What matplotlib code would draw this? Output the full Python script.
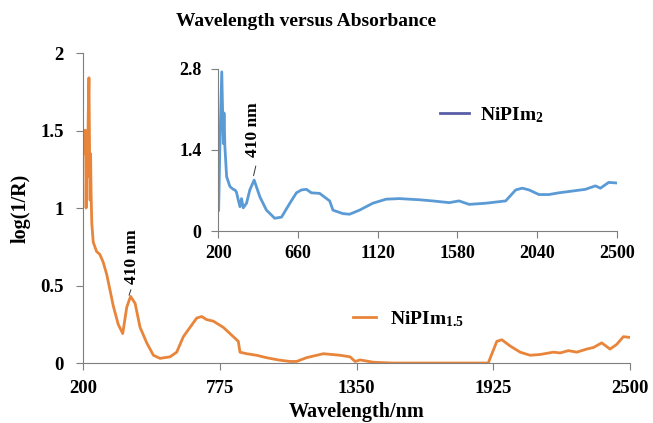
import numpy as np
import matplotlib.pyplot as plt
from matplotlib.lines import Line2D

plt.rcParams['font.family'] = ['Liberation Serif', 'DejaVu Serif']
plt.rcParams['font.weight'] = 'bold'
plt.rcParams['mathtext.fontset'] = 'custom'
plt.rcParams['mathtext.rm'] = 'Liberation Serif:bold'
plt.rcParams['mathtext.it'] = 'Liberation Serif:bold'
plt.rcParams['mathtext.bf'] = 'Liberation Serif:bold'

# NiPIm1.5 (main plot)
wl_15 = [205, 208, 211, 213, 216, 219, 222, 225, 228, 230, 232, 234, 237, 243, 257, 271,
         285, 300, 315, 327, 348, 367, 384, 400, 419, 440, 468, 496, 524, 566, 594, 622, 650, 678,
         699, 720, 748, 790, 832, 853, 860, 888, 930, 970, 1020, 1070, 1098, 1141, 1211,
         1281, 1323, 1344, 1365, 1421, 1500, 1700, 1904, 1940, 1961, 1996, 2038, 2080,
         2122, 2178, 2206, 2241, 2276, 2318, 2346, 2381, 2416, 2444, 2472, 2500]
ab_15 = [1.5, 1.35, 1.5, 1.0, 1.45, 1.2, 1.6, 1.84, 1.3, 1.05, 1.35, 1.1, 0.9, 0.78, 0.72, 0.70,
         0.65, 0.57, 0.46, 0.37, 0.25, 0.19, 0.36, 0.43, 0.385, 0.23, 0.13, 0.05, 0.03, 0.04, 0.07, 0.17,
         0.23, 0.29, 0.30, 0.28, 0.27, 0.23, 0.17, 0.14, 0.07, 0.06, 0.05, 0.035, 0.02, 0.01,
         0.01, 0.035, 0.06, 0.05, 0.04, 0.01, 0.02, 0.005, 0.0, 0.0, 0.0, 0.14, 0.15, 0.11,
         0.07, 0.05, 0.055, 0.07, 0.065, 0.08, 0.07, 0.09, 0.1, 0.13, 0.09, 0.12, 0.17, 0.165]

# NiPIm2 (inset)
wl_2 = [202, 210, 220, 229, 233, 238, 248, 267, 286, 296, 305, 315, 325, 334, 344, 363,
        382, 407, 440, 478, 526, 565, 613, 651, 680, 709, 737, 785, 843, 862, 920, 958,
        1015, 1092, 1169, 1245, 1360, 1437, 1533, 1590, 1648, 1744, 1859, 1917, 1955,
        1994, 2051, 2109, 2166, 2243, 2319, 2377, 2406, 2454, 2500]
ab_2 = [0.36, 1.6, 2.75, 1.51, 2.04, 1.46, 0.94, 0.77, 0.72, 0.71, 0.67, 0.54, 0.42, 0.56,
        0.40, 0.48, 0.71, 0.88, 0.59, 0.36, 0.22, 0.24, 0.48, 0.66, 0.71, 0.72, 0.66, 0.65,
        0.52, 0.36, 0.30, 0.29, 0.36, 0.48, 0.55, 0.56, 0.54, 0.52, 0.49, 0.52, 0.46, 0.48,
        0.52, 0.71, 0.74, 0.71, 0.63, 0.63, 0.66, 0.69, 0.72, 0.78, 0.74, 0.84, 0.83]

main_xticks = [200, 775, 1350, 1925, 2500]
main_yticks = [0, 0.5, 1, 1.5, 2]
inset_xticks = [200, 660, 1120, 1580, 2040, 2500]
inset_yticks = [0, 1.4, 2.8]

orange = '#e8853a'
blue = '#5b9bd5'
spine_col = '#7f7f7f'

fig = plt.figure(figsize=(6.53, 4.23), dpi=100)

ax = fig.add_axes([0.1271, 0.1418, 0.8377, 0.7329])
ax.plot(wl_15, ab_15, color=orange, lw=2)
ax.set_xlim(200, 2500)
ax.set_ylim(0, 2)
ax.set_xticks(main_xticks)
ax.set_yticks(main_yticks)
ax.set_yticklabels(['0', '0.5', '1', '1.5', '2'])
for s in ['top', 'right']:
    ax.spines[s].set_visible(False)
for s in ['left', 'bottom']:
    ax.spines[s].set_color(spine_col)
ax.tick_params(direction='out', length=5, color=spine_col, labelsize=13.5)
ax.tick_params(axis='y', pad=9)
ax.tick_params(axis='x', pad=7)
ax.set_xlabel('Wavelength/nm', fontsize=14.5, fontweight='bold', labelpad=4)
ax.set_ylabel('log(1/R)', fontsize=14.5, fontweight='bold', labelpad=7)

ax.text(408, 0.51, '410 nm', rotation=90, ha='center', va='bottom', fontsize=12.5, fontweight='bold')
ax.annotate('', xy=(390, 0.42), xytext=(405, 0.49),
            arrowprops=dict(arrowstyle='-', color='#333333', lw=0.7))

ax.legend(handles=[Line2D([], [], color=orange, lw=2)], labels=[r'NiPIm$_{1.5}$'],
          loc='center left', bbox_to_anchor=(0.4936, 0.1415), frameon=False,
          borderpad=0, borderaxespad=0, handlelength=1.2, handletextpad=0.7,
          prop={'size': 14, 'weight': 'bold'})

ins = fig.add_axes([0.3343, 0.4539, 0.6101, 0.3830])
ins.patch.set_alpha(0)
ins.plot(wl_2, ab_2, color=blue, lw=2)
ins.set_xlim(200, 2500)
ins.set_ylim(0, 2.8)
ins.set_xticks(inset_xticks)
ins.set_yticks(inset_yticks)
ins.set_yticklabels(['0', '1.4', '2.8'])
for s in ['top', 'right']:
    ins.spines[s].set_visible(False)
for s in ['left', 'bottom']:
    ins.spines[s].set_color(spine_col)
ins.tick_params(direction='out', length=5, color=spine_col, labelsize=13)
ins.tick_params(axis='y', pad=7)
ins.tick_params(axis='x', pad=5)

ins.text(400, 1.28, '410 nm', rotation=90, ha='center', va='bottom', fontsize=12.5, fontweight='bold')
ins.annotate('', xy=(400, 0.91), xytext=(420, 1.17),
             arrowprops=dict(arrowstyle='-', color='#333333', lw=0.7))

ins.legend(handles=[Line2D([], [], color='#5b5ea6', lw=2)], labels=[r'NiPIm$_{2}$'],
           loc='center left', bbox_to_anchor=(0.5565, 0.716), frameon=False,
           borderpad=0, borderaxespad=0, handlelength=1.5, handletextpad=0.55,
           prop={'size': 14, 'weight': 'bold'})

fig.text(0.469, 0.95, 'Wavelength versus Absorbance', ha='center', va='center',
         fontsize=14, fontweight='bold')

fig.savefig('out.png', dpi=100)
